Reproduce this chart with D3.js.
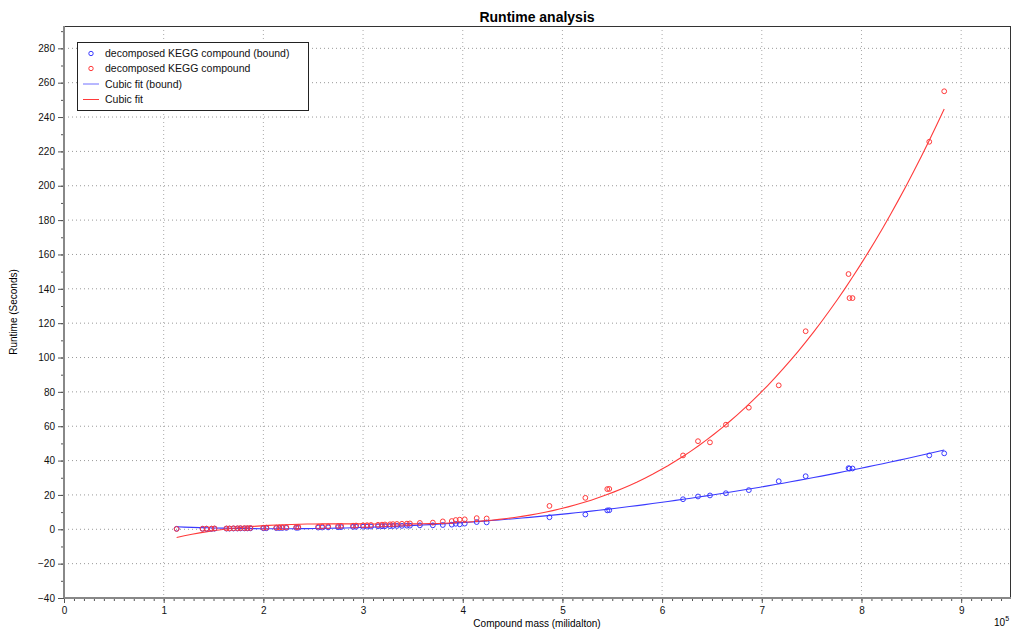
<!DOCTYPE html>
<html><head><meta charset="utf-8">
<script src="https://cdn.jsdelivr.net/npm/d3@7"></script>
<style>
body{margin:0;background:#fff;}
text{font-family:"Liberation Sans",Arial,Helvetica,sans-serif;}
</style></head>
<body><svg id="c" width="1014" height="630"></svg>
<script>
// Compound mass (x 10^5 millidalton)
const mass = [1.13,1.39,1.43,1.48,1.51,1.63,1.66,1.70,1.74,1.77,1.81,1.84,1.87,2.00,2.03,2.13,2.16,2.19,2.23,2.33,2.35,
  2.55,2.59,2.65,2.75,2.78,2.90,2.93,3.00,3.04,3.08,3.15,3.19,3.22,3.27,3.30,3.34,3.39,3.44,3.47,3.57,3.70,3.80,3.89,3.93,3.97,4.02,4.14,4.24,
  4.87,5.23,5.45,5.47,6.21,6.36,6.48,6.64,6.87,7.17,7.44,7.87,7.88,7.91,8.68,8.83];
// Runtime (seconds), bound
const runtimeBound = [0.3,0.3,0.3,0.3,0.35,0.4,0.4,0.45,0.45,0.5,0.5,0.5,0.55,0.6,0.6,0.7,0.7,0.75,0.8,0.85,0.9,
  1.0,1.05,1.1,1.2,1.25,1.4,1.45,1.5,1.55,1.6,1.7,1.75,1.8,1.85,1.9,1.95,2.0,2.1,2.1,2.3,2.3,2.5,2.7,3.2,2.9,3.3,4.2,4.0,
  7.0,8.6,11.0,11.1,17.5,19.1,19.7,21.0,22.8,28.0,30.9,35.6,35.3,35.4,43.0,44.2];
// Runtime (seconds), unbound
const runtime = [0.2,0.3,0.4,0.4,0.5,0.5,0.5,0.6,0.6,0.7,0.7,0.7,0.8,0.9,1.0,1.0,1.1,1.1,1.2,1.3,1.4,
  1.5,1.6,1.7,1.9,2.0,2.1,2.2,2.3,2.4,2.5,2.6,2.7,2.8,2.9,3.0,3.1,3.2,3.3,3.4,3.7,3.9,4.6,4.8,5.4,5.6,5.8,6.5,6.3,
  13.6,18.3,23.4,23.5,43.0,51.3,50.6,60.9,70.8,83.8,115.3,148.6,134.6,134.6,225.6,255.0];
const xTicks = [0,1,2,3,4,5,6,7,8,9];
const yTicks = [-40,-20,0,20,40,60,80,100,120,140,160,180,200,220,240,260,280];
const legendLabels = ["decomposed KEGG compound (bound)","decomposed KEGG compound","Cubic fit (bound)","Cubic fit"];

const blue = "#3a3aff", red = "#ff3a3a";
const svg = d3.select("#c");
const L=64, R=1011, T=26, B=598;
const x = d3.scaleLinear().domain([0,9.5]).range([L,R]);
const y = d3.scaleLinear().domain([-40,293]).range([B,T]);

// least squares cubic fit
function cubicFit(xs, ys){
  const n=4, A=[...Array(n)].map(()=>Array(n+1).fill(0));
  xs.forEach((xv,k)=>{
    for(let i=0;i<n;i++){ for(let j=0;j<n;j++) A[i][j]+=Math.pow(xv,i+j); A[i][n]+=ys[k]*Math.pow(xv,i); }
  });
  for(let i=0;i<n;i++){
    let p=i; for(let r=i+1;r<n;r++) if(Math.abs(A[r][i])>Math.abs(A[p][i])) p=r;
    [A[i],A[p]]=[A[p],A[i]];
    for(let r=0;r<n;r++){ if(r===i) continue; const f=A[r][i]/A[i][i]; for(let c=i;c<=n;c++) A[r][c]-=f*A[i][c]; }
  }
  const c=A.map((row,i)=>row[n]/row[i]);
  return v=>c[0]+c[1]*v+c[2]*v*v+c[3]*v*v*v;
}

// grid
const g = svg.append("g");
g.selectAll(".hg").data(yTicks.filter(d=>d>-40)).join("line")
  .attr("x1",L).attr("x2",R).attr("y1",d=>y(d)).attr("y2",d=>y(d))
  .attr("stroke","#999").attr("stroke-width",1).attr("stroke-dasharray","1,3");
g.selectAll(".vg").data(xTicks.filter(d=>d>0)).join("line")
  .attr("y1",T).attr("y2",B).attr("x1",d=>x(d)).attr("x2",d=>x(d))
  .attr("stroke","#aaa").attr("stroke-width",1).attr("stroke-dasharray","1,3");

// frame top/right
svg.append("line").attr("x1",L).attr("x2",R).attr("y1",T+0.5).attr("y2",T+0.5).attr("stroke","#333");
svg.append("line").attr("x1",R-0.5).attr("x2",R-0.5).attr("y1",T).attr("y2",B).attr("stroke","#333");

// axes
const xMinor = d3.range(0,95).map(i=>i/10);
const yMinor = d3.range(-40,291,10);
const ax = svg.append("g").attr("transform",`translate(0,${B})`);
ax.call(d3.axisBottom(x).tickValues(xMinor).tickSize(3).tickFormat(""));
ax.append("g").call(d3.axisBottom(x).tickValues(xTicks).tickSize(5).tickPadding(4).tickFormat(d3.format("d")));
const ay = svg.append("g").attr("transform",`translate(${L},0)`);
ay.call(d3.axisLeft(y).tickValues(yMinor).tickSize(3).tickFormat(""));
ay.append("g").call(d3.axisLeft(y).tickValues(yTicks).tickSize(6).tickPadding(3).tickFormat(d3.format("d")));
svg.selectAll(".domain").attr("stroke","none");
svg.selectAll(".tick line").attr("stroke","#555");
svg.selectAll(".tick text").attr("font-size",10).attr("fill","#111").style("font-family","Liberation Sans, Arial, sans-serif");
svg.append("line").attr("x1",L).attr("x2",R).attr("y1",B).attr("y2",B).attr("stroke","#888").attr("stroke-width",2);
svg.append("line").attr("x1",L).attr("x2",L).attr("y1",T).attr("y2",B).attr("stroke","#888").attr("stroke-width",2);

// fits
const xs = d3.range(0,101).map(i=>d3.min(mass)+(d3.max(mass)-d3.min(mass))*i/100);
const fB = cubicFit(mass, runtimeBound), fR = cubicFit(mass, runtime);
const line = f=>d3.line().x(d=>x(d)).y(d=>y(f(d)));
svg.append("path").attr("d",line(fB)(xs)).attr("fill","none").attr("stroke",blue).attr("stroke-width",1.1);
svg.append("path").attr("d",line(fR)(xs)).attr("fill","none").attr("stroke",red).attr("stroke-width",1.1);

// points
svg.append("g").selectAll("circle").data(mass).join("circle")
  .attr("cx",d=>x(d)).attr("cy",(d,i)=>y(runtimeBound[i])).attr("r",2.4)
  .attr("fill","none").attr("stroke",blue).attr("stroke-width",1);
svg.append("g").selectAll("circle").data(mass).join("circle")
  .attr("cx",d=>x(d)).attr("cy",(d,i)=>y(runtime[i])).attr("r",2.4)
  .attr("fill","none").attr("stroke",red).attr("stroke-width",1);

// titles
svg.append("text").attr("x",537).attr("y",22).attr("text-anchor","middle")
  .attr("font-size",14).attr("font-weight","bold").text("Runtime analysis");
svg.append("text").attr("x",537).attr("y",627).attr("text-anchor","middle")
  .attr("font-size",10).text("Compound mass (milidalton)");
svg.append("text").attr("transform","translate(17,312) rotate(-90)").attr("text-anchor","middle")
  .attr("font-size",10).text("Runtime (Seconds)");
const e = svg.append("text").attr("x",994).attr("y",626).attr("font-size",10);
e.append("tspan").text("10");
e.append("tspan").attr("dy",-5).attr("font-size",7).text("5");

// legend
const lg = svg.append("g");
lg.append("rect").attr("x",77.5).attr("y",42.5).attr("width",231).attr("height",68)
  .attr("fill","#fff").attr("stroke","#222").attr("stroke-width",1);
const ly = [53.5,68.5,84,99.5];
const lc = [blue,red,"#7070ff",red];
legendLabels.forEach((t,i)=>{
  if(i<2) lg.append("circle").attr("cx",91).attr("cy",ly[i]).attr("r",2.2).attr("fill","none").attr("stroke",lc[i]);
  else lg.append("line").attr("x1",83).attr("x2",99).attr("y1",ly[i]).attr("y2",ly[i]).attr("stroke",lc[i]);
  lg.append("text").attr("x",105).attr("y",ly[i]+3.5).attr("font-size",10.5).attr("fill","#111").text(t);
});
</script></body></html>
